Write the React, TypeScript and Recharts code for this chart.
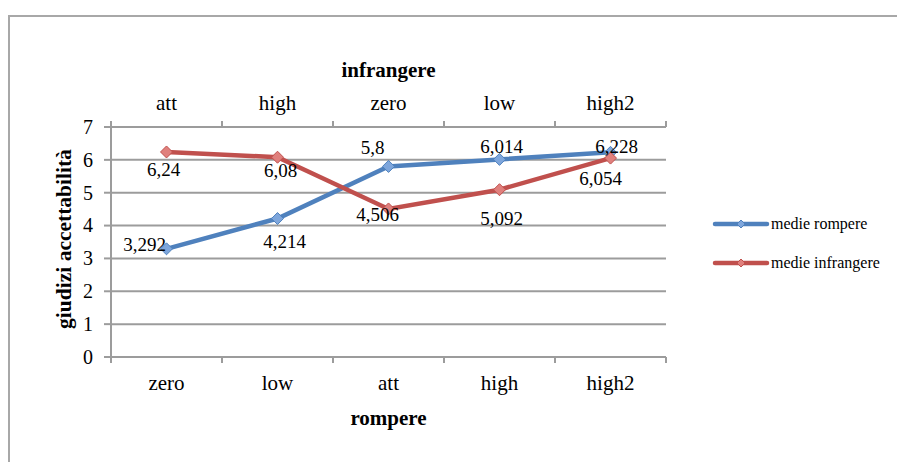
import React from 'react';
import { LineChart, Line, XAxis, YAxis, CartesianGrid, Legend, LabelList } from 'recharts';

// ---- data ----
const rompereCategories = ['zero', 'low', 'att', 'high', 'high2'];
const infrangereCategories = ['att', 'high', 'zero', 'low', 'high2'];
const medieRompere = [3.292, 4.214, 5.8, 6.014, 6.228];
const medieInfrangere = [6.24, 6.08, 4.506, 5.092, 6.054];
const yTicks = [0, 1, 2, 3, 4, 5, 6, 7];
const seriesNames = ['medie rompere', 'medie infrangere'];

// ---- label placement (style only) ----
const rompereLabelOffsets = [[-22, -4], [7, 23], [-16, -19], [2, -13], [6, -6]];
const infrangereLabelOffsets = [[-3, 18], [3, 13], [-11, 6], [2, 29], [-10, 20]];

const data = rompereCategories.map((c, i) => ({
  rompere: c,
  infrangere: infrangereCategories[i],
  r: medieRompere[i],
  f: medieInfrangere[i],
}));

const FONT = '"Liberation Serif", "Times New Roman", Times, serif';
const GRID = '#9c9c9c';
const BLUE = '#4f81bd';
const RED = '#c0504d';
const BLUE_FILL = '#7ea6dc';
const RED_FILL = '#e0807d';
const TICK_SIZE = 7;
const TICK_MARGIN = 8;
const TICK_FS = 21;
const YTICK_FS = 20;
const LABEL_FS = 19;
const TITLE_FS = 21;

const fmt = (v: number) => String(v).replace('.', ',');

const textStyle = (size: number, bold = false): React.CSSProperties => ({
  fontFamily: FONT,
  fontSize: size,
  fontWeight: bold ? 'bold' : 'normal',
  fill: '#000',
});

function CatTick(props: any) {
  const { x, y, payload, index, visibleTicksCount, side } = props;
  const half = payload && payload.offset ? payload.offset : 0;
  const dir = side === 'top' ? -1 : 1;
  const axisY = y - dir * (TICK_SIZE + TICK_MARGIN);
  const textY = side === 'top' ? axisY - 17 : axisY + 33;
  const isLast = index === visibleTicksCount - 1;
  return (
    <g>
      <line x1={x - half} x2={x - half} y1={axisY} y2={axisY + dir * 6} stroke={GRID} strokeWidth={2} />
      {isLast && (
        <line x1={x + half} x2={x + half} y1={axisY} y2={axisY + dir * 6} stroke={GRID} strokeWidth={2} />
      )}
      <text x={x} y={textY} textAnchor="middle" style={textStyle(TICK_FS)}>
        {payload.value}
      </text>
    </g>
  );
}

function YTick(props: any) {
  const { x, y, payload } = props;
  return (
    <text x={x} y={y + 0.34 * YTICK_FS} textAnchor="end" style={textStyle(YTICK_FS)}>
      {payload.value}
    </text>
  );
}

const makeDot = (stroke: string, fill: string) => (p: any) => {
  const { cx, cy, index } = p;
  const s = 6;
  return (
    <path
      key={`d-${index}`}
      d={`M${cx},${cy - s} L${cx + s},${cy} L${cx},${cy + s} L${cx - s},${cy} Z`}
      fill={fill}
      stroke={stroke}
      strokeWidth={1}
    />
  );
};

const makeLabel = (offsets: number[][]) => (p: any) => {
  const { x, y, value, index } = p;
  const [dx, dy] = offsets[index] || [0, 0];
  return (
    <text
      key={`l-${index}`}
      x={x + dx}
      y={y + dy + 0.34 * LABEL_FS}
      textAnchor="middle"
      style={textStyle(LABEL_FS)}
    >
      {fmt(value)}
    </text>
  );
};

function LegendContent(props: any) {
  const payload = [...(props.payload || [])].sort(
    (a: any, b: any) => seriesNames.indexOf(a.value) - seriesNames.indexOf(b.value)
  );
  return (
    <div style={{ fontFamily: FONT }}>
      {payload.map((e: any, i: number) => {
        const fill = e.color === BLUE ? BLUE_FILL : RED_FILL;
        return (
          <div key={i} style={{ display: 'flex', alignItems: 'center', height: 20, marginBottom: 19 }}>
            <svg width={58} height={14} style={{ display: 'block' }}>
              <line x1={3} x2={55} y1={7} y2={7} stroke={e.color} strokeWidth={4.5} strokeLinecap="round" />
              <path d="M29,3 L33,7 L29,11 L25,7 Z" fill={fill} stroke={e.color} strokeWidth={1} />
            </svg>
            <span style={{ fontSize: 16, marginLeft: 1, color: '#000', whiteSpace: 'nowrap' }}>{e.value}</span>
          </div>
        );
      })}
    </div>
  );
}

export default function App() {
  return (
    <div style={{ position: 'relative', width: 897, height: 454, overflow: 'hidden', background: '#fff' }}>
      <div
        style={{
          position: 'absolute',
          left: 0,
          top: 7,
          width: 2000,
          height: 2000,
          borderLeft: '2px solid #a8a8a8',
          borderTop: '2px solid #a8a8a8',
        }}
      />
      <div style={{ position: 'absolute', left: 0, top: 0 }}>
        <LineChart width={897} height={454} data={data} margin={{ top: 49, right: 239, bottom: 0, left: 0 }}>
          <CartesianGrid vertical={false} stroke={GRID} strokeWidth={2} xAxisId="bottom" />
          <XAxis
            xAxisId="bottom"
            dataKey="rompere"
            scale="band"
            height={105}
            interval={0}
            tickSize={TICK_SIZE}
            tickMargin={TICK_MARGIN}
            tickLine={false}
            axisLine={{ stroke: GRID, strokeWidth: 2 }}
            tick={<CatTick side="bottom" />}
            label={{
              content: (p: any) => {
                const vb = p.viewBox;
                return (
                  <text x={vb.x + vb.width / 2} y={vb.y + 68} textAnchor="middle" style={textStyle(TITLE_FS, true)}>
                    rompere
                  </text>
                );
              },
            }}
          />
          <XAxis
            xAxisId="top"
            orientation="top"
            dataKey="infrangere"
            scale="band"
            height={70}
            interval={0}
            tickSize={TICK_SIZE}
            tickMargin={TICK_MARGIN}
            tickLine={false}
            axisLine={{ stroke: GRID, strokeWidth: 2 }}
            tick={<CatTick side="top" />}
            label={{
              content: (p: any) => {
                const vb = p.viewBox;
                return (
                  <text x={vb.x + vb.width / 2} y={vb.y + 20} textAnchor="middle" style={textStyle(TITLE_FS, true)}>
                    infrangere
                  </text>
                );
              },
            }}
          />
          <YAxis
            type="number"
            domain={[0, 7]}
            ticks={yTicks}
            interval={0}
            width={103}
            tickSize={TICK_SIZE}
            tickMargin={11}
            axisLine={{ stroke: GRID, strokeWidth: 2 }}
            tickLine={{ stroke: GRID, strokeWidth: 2 }}
            tick={<YTick />}
            label={{
              content: (p: any) => {
                const vb = p.viewBox;
                const cx = vb.x + 63;
                const cy = vb.y + vb.height / 2 - 3;
                return (
                  <text
                    x={cx}
                    y={cy}
                    transform={`rotate(-90 ${cx} ${cy})`}
                    textAnchor="middle"
                    style={textStyle(21.5, true)}
                  >
                    giudizi accettabilità
                  </text>
                );
              },
            }}
          />
          <Line
            xAxisId="bottom"
            dataKey="r"
            name={seriesNames[0]}
            stroke={BLUE}
            strokeWidth={4.5}
            dot={makeDot(BLUE, BLUE_FILL)}
            activeDot={false}
            isAnimationActive={false}
          >
            <LabelList dataKey="r" content={makeLabel(rompereLabelOffsets)} />
          </Line>
          <Line
            xAxisId="bottom"
            dataKey="f"
            name={seriesNames[1]}
            stroke={RED}
            strokeWidth={4.5}
            dot={makeDot(RED, RED_FILL)}
            activeDot={false}
            isAnimationActive={false}
          >
            <LabelList dataKey="f" content={makeLabel(infrangereLabelOffsets)} />
          </Line>
          <Legend
            layout="vertical"
            align="center"
            verticalAlign="middle"
            wrapperStyle={{ left: 704, top: 206, width: 190 }}
            content={<LegendContent />}
          />
        </LineChart>
      </div>
    </div>
  );
}
